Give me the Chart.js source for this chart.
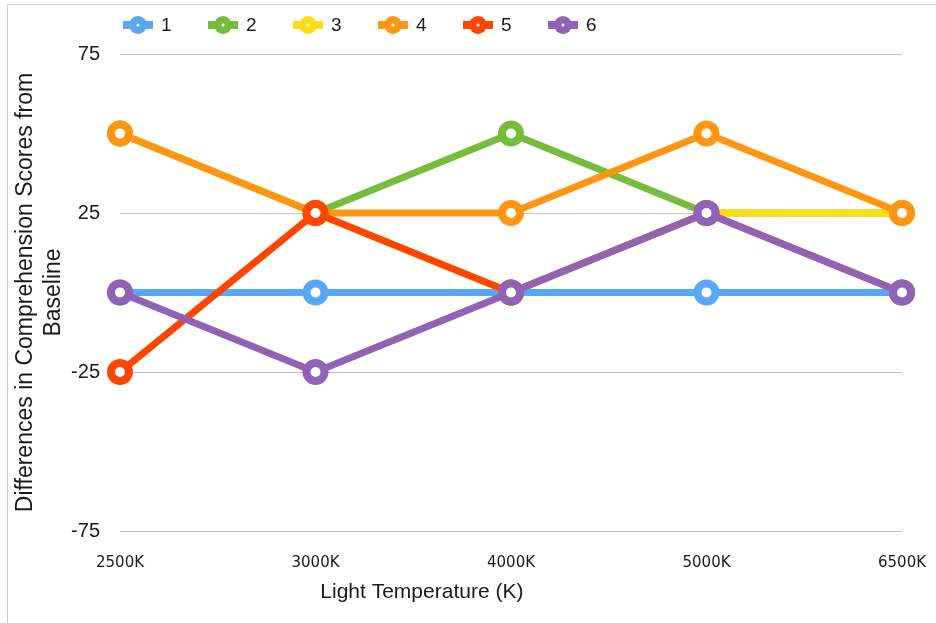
<!DOCTYPE html>
<html>
<head>
<meta charset="utf-8">
<script src="https://cdn.jsdelivr.net/npm/chart.js@4.4.1/dist/chart.umd.min.js"></script>
<style>
  html, body { margin: 0; padding: 0; background: #ffffff; }
  #wrap { position: relative; width: 936px; height: 623px; }
  canvas { display: block; }
</style>
</head>
<body>
<div id="wrap"><canvas id="chart" width="936" height="623"></canvas></div>
<script>
// Light temperature conditions (x axis)
const categories = ['2500K', '3000K', '4000K', '5000K', '6500K'];

// Differences in comprehension scores from baseline, one list per participant
const series1 = [0, 0, 0, 0, 0];
const series2 = [50, 25, 50, 25, 25];
const series3 = [50, 25, 0, 25, 25];
const series4 = [50, 25, 25, 50, 25];
const series5 = [-25, 25, 0, 25, 0];
const series6 = [0, -25, 0, 25, 0];

const seriesNames = ['1', '2', '3', '4', '5', '6'];
const seriesValues = [series1, series2, series3, series4, series5, series6];
const seriesColors = ['#58A8F7', '#77BD3D', '#FFDD13', '#FF9613', '#FF4600', '#9162B5'];

// Y axis range and tick spacing
const yMin = -75;
const yMax = 75;
const yStep = 50;

const datasets = seriesValues.map((vals, i) => ({
  label: seriesNames[i],
  data: vals,
  borderColor: seriesColors[i],
  backgroundColor: '#ffffff',
  borderWidth: 7,
  pointRadius: 9,
  pointBorderWidth: 8,
  pointBackgroundColor: '#ffffff',
  pointBorderColor: seriesColors[i],
  pointHoverRadius: 9,
  tension: 0,
  fill: false,
  order: seriesValues.length - 1 - i   // later series are painted on top
}));

// Frame lines along the left and top edge
const framePlugin = {
  id: 'frame',
  beforeDraw(chart) {
    const ctx = chart.ctx;
    ctx.save();
    ctx.strokeStyle = '#cfcfcf';
    ctx.lineWidth = 1;
    ctx.beginPath();
    ctx.moveTo(7.5, 623);
    ctx.lineTo(7.5, 4.5);
    ctx.lineTo(936, 4.5);
    ctx.stroke();
    ctx.restore();
  }
};

// Legend row: line + ring marker followed by the series name
const legendPlugin = {
  id: 'lineLegend',
  afterDraw(chart) {
    const ctx = chart.ctx;
    const startX = 123, stepX = 85, cy = 25;
    ctx.save();
    chart.data.datasets.forEach((ds, i) => {
      const x = startX + i * stepX;
      ctx.strokeStyle = ds.borderColor;
      ctx.lineWidth = 8;
      ctx.beginPath();
      ctx.moveTo(x, cy);
      ctx.lineTo(x + 30, cy);
      ctx.stroke();
      ctx.fillStyle = ds.borderColor;
      ctx.beginPath();
      ctx.arc(x + 15, cy, 9, 0, Math.PI * 2);
      ctx.fill();
      ctx.fillStyle = '#ffffff';
      ctx.beginPath();
      ctx.arc(x + 15, cy, 1.5, 0, Math.PI * 2);
      ctx.fill();
      ctx.fillStyle = '#1a1a1a';
      ctx.font = '19px "Liberation Sans", Arial, sans-serif';
      ctx.textBaseline = 'middle';
      ctx.textAlign = 'left';
      ctx.fillText(ds.label, x + 38, cy + 1);
    });
    ctx.restore();
  }
};

// X axis title, placed under the tick labels
const xTitlePlugin = {
  id: 'xTitle',
  afterDraw(chart) {
    const ctx = chart.ctx;
    const a = chart.chartArea;
    ctx.save();
    ctx.fillStyle = '#1a1a1a';
    ctx.font = '21px "Liberation Sans", Arial, sans-serif';
    ctx.textAlign = 'center';
    ctx.textBaseline = 'alphabetic';
    ctx.fillText('Light Temperature (K)', a.left + (a.right - a.left) * 0.386, a.bottom + 67);
    ctx.restore();
  }
};

new Chart(document.getElementById('chart'), {
  type: 'line',
  data: { labels: categories, datasets },
  plugins: [framePlugin, legendPlugin, xTitlePlugin],
  options: {
    responsive: false,
    animation: false,
    layout: { padding: { left: 0, right: 34, top: 54, bottom: 0 } },
    plugins: {
      legend: { display: false },
      tooltip: { enabled: false }
    },
    scales: {
      x: {
        offset: false,
        grid: { display: false, drawTicks: false },
        border: { display: false },
        ticks: {
          color: '#1a1a1a',
          padding: 23,
          maxRotation: 0,
          font: { family: '"DejaVu Sans", Verdana, sans-serif', size: 15 }
        },
        afterFit(scale) {
          scale.height = 92;
          scale.paddingLeft = 0;
          scale.paddingRight = 0;
        }
      },
      y: {
        min: yMin,
        max: yMax,
        grid: { color: '#c4c4c4', lineWidth: 1, drawTicks: false },
        border: { display: false },
        ticks: {
          stepSize: yStep,
          color: '#1a1a1a',
          padding: 20,
          font: { family: '"Liberation Sans", Arial, sans-serif', size: 20 }
        },
        title: {
          display: true,
          text: ['Differences in Comprehension Scores from', 'Baseline'],
          color: '#1a1a1a',
          padding: { top: 12, bottom: 0 },
          font: { family: '"Liberation Sans", Arial, sans-serif', size: 23, lineHeight: 1.2 }
        },
        afterFit(scale) { scale.width = 120; }
      }
    }
  }
});
</script>
</body>
</html>
